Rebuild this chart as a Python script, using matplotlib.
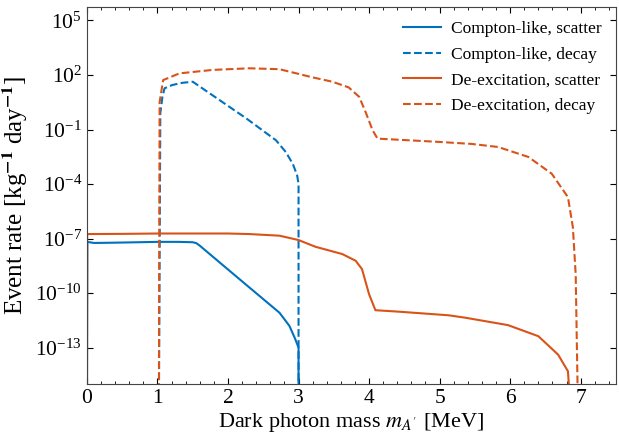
import numpy as np
import matplotlib
matplotlib.use("Agg")
import matplotlib.pyplot as plt
from matplotlib.ticker import MultipleLocator, FixedLocator, NullLocator

plt.rcParams["font.family"] = ["Liberation Serif", "DejaVu Serif"]
plt.rcParams["mathtext.fontset"] = "stix"

BLUE = "#0072BD"
ORANGE = "#D95319"

# Compton-like, scatter  (mass in MeV, log10 rate)
cs_x = [0.0, 0.005, 0.1, 0.3, 0.6, 1.0, 1.3, 1.5, 1.55, 1.6, 2.0, 2.3, 2.5, 2.73, 2.87, 2.95, 3.0, 3.0]
cs_y = [-16, -7.18, -7.24, -7.23, -7.21, -7.18, -7.18, -7.2, -7.25, -7.39, -8.7, -9.68, -10.33, -11.08, -11.8, -12.5, -13.0, -16]

# Compton-like, decay
cd_x = [1.02, 1.04, 1.07, 1.10, 1.21, 1.35, 1.5, 1.88, 2.26, 2.68, 2.82, 2.92, 2.98, 3.0, 3.0]
cd_y = [-16, -0.1, 0.8, 1.27, 1.45, 1.57, 1.63, 0.62, -0.39, -1.59, -2.24, -2.9, -3.52, -4.0, -16]

# De-excitation, scatter
ds_x = [0.0, 0.003, 0.5, 1.0, 1.5, 2.0, 2.3, 2.73, 3.0, 3.24, 3.62, 3.81, 3.90, 4.0, 4.09,
        4.42, 5.13, 5.36, 5.97, 6.4, 6.68, 6.82, 6.85]
ds_y = [-16, -6.75, -6.74, -6.72, -6.72, -6.72, -6.75, -6.84, -7.08, -7.45, -7.85, -8.22, -8.68, -10.06, -10.94,
        -11.02, -11.22, -11.35, -11.76, -12.37, -13.38, -14.3, -16]

# De-excitation, decay
dd_x = [1.02, 1.03, 1.08, 1.31, 1.78, 2.30, 2.73, 3.20, 3.48, 3.71, 3.86, 3.95, 4.05, 4.12,
        4.56, 4.99, 5.45, 5.83, 6.26, 6.59, 6.82, 6.89, 6.93, 6.96]
dd_y = [-16, 0.5, 1.72, 2.09, 2.28, 2.37, 2.32, 1.87, 1.63, 1.32, 0.80, -0.03, -1.04, -1.50,
        -1.59, -1.68, -1.79, -1.96, -2.51, -3.43, -4.72, -6.38, -9.0, -16]

fig = plt.figure(figsize=(6.19, 4.34), dpi=100)
ax = fig.add_axes([0.1405, 0.1152, 0.8545, 0.869])

ax.plot(cs_x, 10.0 ** np.array(cs_y), color=BLUE, lw=1.5, label="Compton-like, scatter")
ax.plot(cd_x, 10.0 ** np.array(cd_y), color=BLUE, lw=1.5, ls="--", label="Compton-like, decay")
ax.plot(ds_x, 10.0 ** np.array(ds_y), color=ORANGE, lw=1.5, label="De-excitation, scatter")
ax.plot(dd_x, 10.0 ** np.array(dd_y), color=ORANGE, lw=1.5, ls="--", label="De-excitation, decay")

ax.set_yscale("log")
ax.set_xlim(0, 7.5)
ax.set_ylim(1e-15, 10 ** 5.75)
ax.yaxis.set_major_locator(FixedLocator([1e-13, 1e-10, 1e-7, 1e-4, 1e-1, 1e2, 1e5]))
ax.yaxis.set_minor_locator(NullLocator())
ax.xaxis.set_major_locator(MultipleLocator(1))
ax.xaxis.set_minor_locator(MultipleLocator(0.2))
ax.tick_params(which="both", direction="in", top=True, right=True, labelsize=15.5)
ax.tick_params(which="major", length=4)
ax.tick_params(which="minor", length=2)
for sp in ax.spines.values():
    sp.set_color("#444444")

ax.set_xlabel(r"Dark photon mass $m_{A'}$ [MeV]", fontsize=16, labelpad=2)
ax.set_ylabel(r"Event rate [kg$^{\mathbf{-1}}$ day$^{\mathbf{-1}}$]", fontsize=18)
ax.legend(loc="upper right", frameon=False, fontsize=12.5, handlelength=2.2,
          handletextpad=0.6, labelspacing=0.55, borderaxespad=0.4)

fig.savefig("out.png", dpi=100)
